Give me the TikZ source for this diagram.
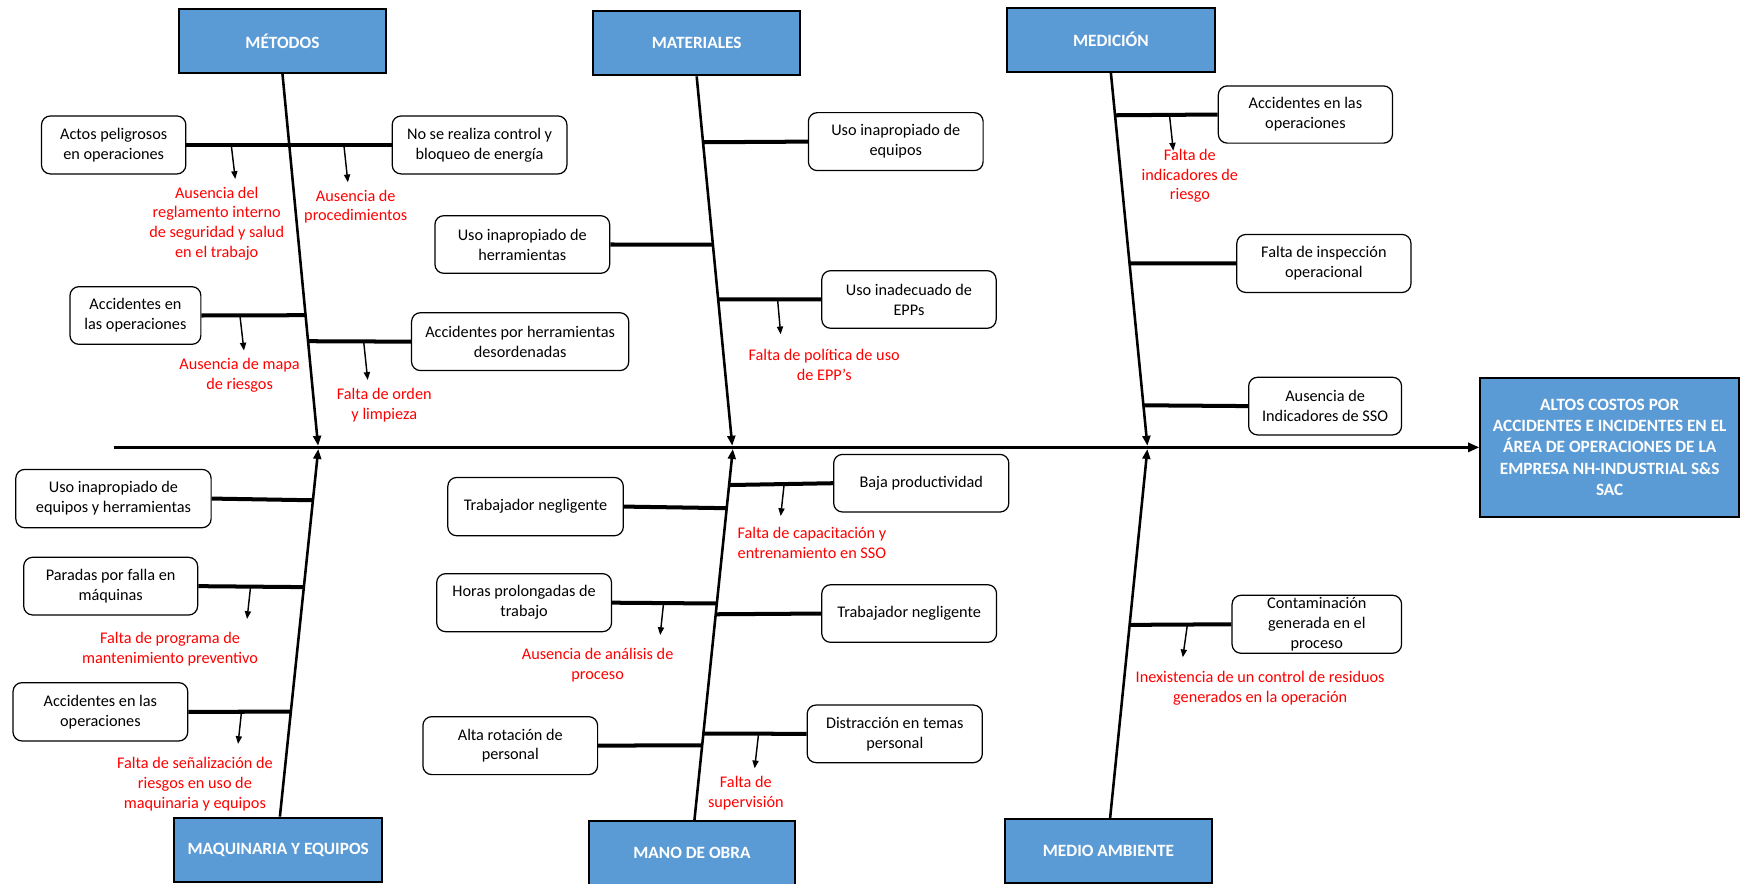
\documentclass[tikz,border=0pt]{standalone}
\usepackage{fontspec}
\setmainfont{Carlito}
\usetikzlibrary{arrows.meta,calc}
\definecolor{catblue}{RGB}{91,155,213}
\definecolor{redtxt}{RGB}{255,0,0}
\begin{document}
\begin{tikzpicture}[x=1pt,y=-1pt,
  catbox/.style={draw=black, line width=1.8pt, fill=catblue, text=white, font=\fontsize{15.5}{19}\selectfont\bfseries, inner sep=0pt, align=center},
  causebox/.style={draw=black, line width=1.1pt, rounded corners=8pt, fill=white, font=\fontsize{14.6}{17.9}\selectfont, inner sep=0pt, align=center},
  redlbl/.style={text=redtxt, font=\fontsize{14.6}{17.9}\selectfont, inner sep=0pt, align=center},
  fbmain/.style={line width=2.7pt, -{Triangle[length=10pt,width=8pt]}},
  fbspine/.style={line width=2.3pt, -{Triangle[length=9pt,width=7pt]}},
  fbbranch/.style={line width=3.6pt},
  causearrow/.style={line width=1.3pt, -{Triangle[length=7pt,width=5.5pt]}}
]
\useasboundingbox (0,0) rectangle (1568,794);

% category boxes
\node[catbox, minimum width=186.4pt, minimum height=56.9pt] (met) at (253.8,36.85) {MÉTODOS};
\node[catbox, minimum width=186.5pt, minimum height=57.8pt] (mat) at (626,38.8) {MATERIALES};
\node[catbox, minimum width=186.3pt, minimum height=57.7pt] (med) at (998.2,35.65) {MEDICIÓN};
\node[catbox, minimum width=186.5pt, minimum height=58.1pt] (maq) at (250,763.75) {MAQUINARIA Y EQUIPOS};
\node[catbox, minimum width=185.7pt, minimum height=58pt] (man) at (621.75,766.7) {MANO DE OBRA};
\node[catbox, minimum width=186.3pt, minimum height=57pt] (mam) at (996,764.65) {MEDIO AMBIENTE};
\node[catbox, minimum width=232.4pt, minimum height=125.4pt] (efecto) at (1446.4,402) {ALTOS COSTOS POR\\ACCIDENTES E INCIDENTES EN EL\\ÁREA DE OPERACIONES DE LA\\EMPRESA NH-INDUSTRIAL S\&S\\SAC};

% cause boxes
\node[causebox, minimum width=129.7pt, minimum height=52.1pt] (actos) at (102.15,130.25) {Actos peligrosos\\en operaciones};
\node[causebox, minimum width=157pt, minimum height=52.1pt] (nose) at (430.9,130.25) {No se realiza control y\\bloqueo de energía};
\node[causebox, minimum width=117.6pt, minimum height=51.8pt] (accM) at (121.7,283.5) {Accidentes en\\las operaciones};
\node[causebox, minimum width=195.2pt, minimum height=52pt] (accher) at (467.4,307) {Accidentes por herramientas\\desordenadas};
\node[causebox, minimum width=157pt, minimum height=51.8pt] (usoher) at (469.3,219.7) {Uso inapropiado de\\herramientas};
\node[causebox, minimum width=157pt, minimum height=52.1pt] (usoeq) at (804.9,127.25) {Uso inapropiado de\\equipos};
\node[causebox, minimum width=156.7pt, minimum height=51.8pt] (epps) at (816.75,269.1) {Uso inadecuado de\\EPPs};
\node[causebox, minimum width=156.5pt, minimum height=51.4pt] (accMed) at (1173,102.9) {Accidentes en las\\operaciones};
\node[causebox, minimum width=156.5pt, minimum height=52.1pt] (insp) at (1189.6,236.75) {Falta de inspección\\operacional};
\node[causebox, minimum width=137.4pt, minimum height=51.8pt] (sso) at (1190.7,364.9) {Ausencia de\\Indicadores de SSO};
\node[causebox, minimum width=175.5pt, minimum height=52.4pt] (usoeqher) at (101.95,448) {Uso inapropiado de\\equipos y herramientas};
\node[causebox, minimum width=156.3pt, minimum height=51.8pt] (paradas) at (99.45,526.7) {Paradas por falla en\\máquinas};
\node[causebox, minimum width=157pt, minimum height=52.4pt] (accMaq) at (90.2,639.6) {Accidentes en las\\operaciones};
\node[causebox, minimum width=157.7pt, minimum height=52.4pt] (trab1) at (481.25,455.2) {Trabajador negligente};
\node[causebox, minimum width=157.4pt, minimum height=51.8pt] (baja) at (827.8,434.2) {Baja productividad};
\node[causebox, minimum width=157.1pt, minimum height=52.1pt] (horas) at (470.95,541.55) {Horas prolongadas de\\trabajo};
\node[causebox, minimum width=157.1pt, minimum height=51.8pt] (trab2) at (816.95,551.3) {Trabajador negligente};
\node[causebox, minimum width=157pt, minimum height=52.1pt] (alta) at (458.5,670) {Alta rotación de\\personal};
\node[causebox, minimum width=157.4pt, minimum height=51.8pt] (distr) at (804,659.4) {Distracción en temas\\personal};
\node[causebox, minimum width=152.3pt, minimum height=52.1pt] (conta) at (1183.25,560.95) {Contaminación\\generada en el\\proceso};

% red labels
\node[redlbl] (l1) at (194.7,201) {Ausencia del\\reglamento interno\\de seguridad y salud\\en el trabajo};
\node[redlbl] (l2) at (319.7,185.7) {Ausencia de\\procedimientos};
\node[redlbl] (l3) at (215.3,337.2) {Ausencia de mapa\\de riesgos};
\node[redlbl] (l4) at (345.3,364.2) {Falta de orden\\y limpieza};
\node[redlbl] (l5) at (740.6,328.1) {Falta de política de uso\\de EPP's};
\node[redlbl] (l6) at (1069.2,158) {Falta de\\indicadores de\\riesgo};
\node[redlbl] (l7) at (152.8,583.2) {Falta de programa de\\mantenimiento preventivo};
\node[redlbl] (l8) at (175.1,704.6) {Falta de señalización de\\riesgos en uso de\\maquinaria y equipos};
\node[redlbl] (l9) at (729.6,487.8) {Falta de capacitación y\\entrenamiento en SSO};
\node[redlbl] (l10) at (537,597.85) {Ausencia de análisis de\\proceso};
\node[redlbl] (l11) at (670.2,712.5) {Falta de\\supervisión};
\node[redlbl] (l12) at (1132.3,618.5) {Inexistencia de un control de residuos\\generados en la operación};

% main line
\coordinate (tail) at (102,402);
\draw[fbmain] (tail) -- (efecto.west);

% spine tips and starts
\coordinate (tM) at (285.8,400.6);
\coordinate (tMat) at (658,400.6);
\coordinate (tMed) at (1031,400.6);
\coordinate (tMaq) at (286,403.4);
\coordinate (tMan) at (658.5,403.4);
\coordinate (tMam) at (1031,403.4);
\coordinate (sMaq) at ([xshift=1.5pt]maq.north);
\coordinate (sMan) at ([xshift=2.25pt]man.north);
\coordinate (sMam) at ([xshift=1.5pt]mam.north);

\draw[fbspine] (met.south) -- (tM);
\draw[fbspine] (mat.south) -- (tMat);
\draw[fbspine] (med.south) -- (tMed);
\draw[fbspine] (sMaq) -- (tMaq);
\draw[fbspine] (sMan) -- (tMan);
\draw[fbspine] (sMam) -- (tMam);

% junctions
\coordinate (jM2) at ($(met.south)!0.649!(tM)$);
\coordinate (jM3) at ($(met.south)!0.7189!(tM)$);
\coordinate (jT1) at ($(mat.south)!0.1784!(tMat)$);
\coordinate (jT2) at ($(mat.south)!0.4554!(tMat)$);
\coordinate (jT3) at ($(mat.south)!0.6034!(tMat)$);
\coordinate (jD1) at ($(med.south)!0.1139!(tMed)$);
\coordinate (jD2) at ($(med.south)!0.5111!(tMed)$);
\coordinate (jD3) at ($(med.south)!0.8914!(tMed)$);
\coordinate (jQ1) at ($(sMaq)!0.8604!(tMaq)$);
\coordinate (jQ2) at ($(sMaq)!0.6242!(tMaq)$);
\coordinate (jQ3) at ($(sMaq)!0.2854!(tMaq)$);
\coordinate (jO1) at ($(sMan)!0.9027!(tMan)$);
\coordinate (jO2) at ($(sMan)!0.8403!(tMan)$);
\coordinate (jO3) at ($(sMan)!0.5834!(tMan)$);
\coordinate (jO4) at ($(sMan)!0.5544!(tMan)$);
\coordinate (jO5) at ($(sMan)!0.2014!(tMan)$);
\coordinate (jO6) at ($(sMan)!0.2329!(tMan)$);
\coordinate (jA1) at ($(sMam)!0.5236!(tMam)$);

% branches
\draw[fbbranch] (actos.east) -- (nose.west);
\draw[fbbranch] (accM.east) -- (jM2);
\draw[fbbranch] (jM3) -- (accher.west);
\draw[fbbranch] (jT1) -- (usoeq.west);
\draw[fbbranch] (usoher.east) -- (jT2);
\draw[fbbranch] (jT3) -- (epps.west);
\draw[fbbranch] (jD1) -- (accMed.west);
\draw[fbbranch] (jD2) -- (insp.west);
\draw[fbbranch] (jD3) -- (sso.west);
\draw[fbbranch] (usoeqher.east) -- (jQ1);
\draw[fbbranch] (paradas.east) -- (jQ2);
\draw[fbbranch] (accMaq.east) -- (jQ3);
\draw[fbbranch] (jO1) -- (baja.west);
\draw[fbbranch] (trab1.east) -- (jO2);
\draw[fbbranch] (horas.east) -- (jO3);
\draw[fbbranch] (jO4) -- (trab2.west);
\draw[fbbranch] (alta.east) -- (jO5);
\draw[fbbranch] (jO6) -- (distr.west);
\draw[fbbranch] (jA1) -- (conta.west);

% small cause arrows
\coordinate (a1s) at (207.8,130.25);  \coordinate (a1e) at (211.4,160.8);
\coordinate (a2s) at (309,130.25);    \coordinate (a2e) at (312.6,163.8);
\coordinate (a3s) at (215.6,283.5);   \coordinate (a3e) at (219.2,315);
\coordinate (a4s) at (326.8,307);     \coordinate (a4e) at (330.4,341.4);
\coordinate (a5s) at (698.7,269.1);   \coordinate (a5e) at (701.5,300.4);
\coordinate (a6s) at (1050.8,102.9);  \coordinate (a6e) at (1054.3,135.4);
\coordinate (a7s) at (225.2,526.7);   \coordinate (a7e) at (222,556.2);
\coordinate (a8s) at (217,639.6);     \coordinate (a8e) at (213.9,668.5);
\coordinate (a9s) at (704.7,434.2);   \coordinate (a9e) at (701.5,463.7);
\coordinate (a10s) at (596.3,541.55); \coordinate (a10e) at (593.2,570.6);
\coordinate (a11s) at (681.6,659.4);  \coordinate (a11e) at (678.1,690.4);
\coordinate (a12s) at (1067,560.95);  \coordinate (a12e) at (1062.8,590.6);
\foreach \i in {1,...,12} {\draw[causearrow] (a\i s) -- (a\i e);}
\end{tikzpicture}
\end{document}
